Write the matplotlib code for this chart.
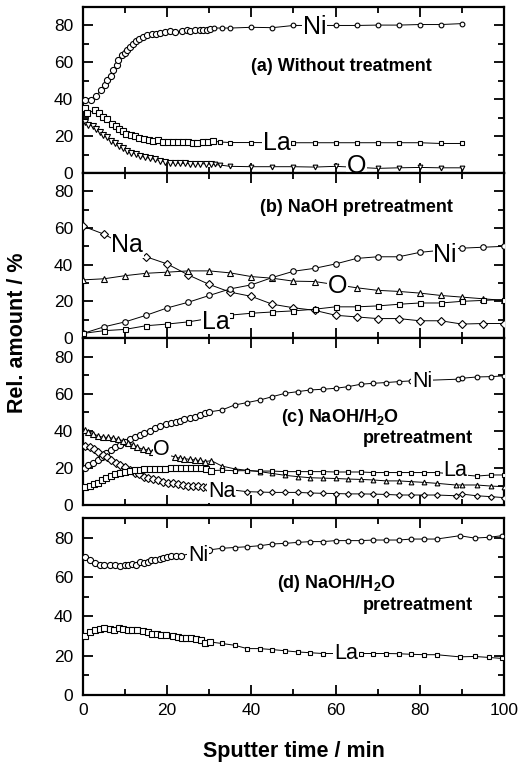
import matplotlib
matplotlib.use("Agg")
import matplotlib.pyplot as plt
from matplotlib.ticker import MultipleLocator

plt.rcParams['font.family'] = ['Liberation Sans', 'DejaVu Sans']
plt.rcParams['mathtext.fontset'] = 'custom'
plt.rcParams['mathtext.rm'] = 'Liberation Sans'
plt.rcParams['mathtext.bf'] = 'Liberation Sans:bold'

# ---------------- data (sputter time / min, relative amount / %) ----------------
# (a) Without treatment
NI_A_T = [0.5, 2.0, 3.1, 4.2, 5.2, 5.8, 6.6, 7.2, 8.0, 8.4, 9.2, 10.0, 10.5, 11.2, 11.8,
          12.6, 13.4, 14.3, 15.3, 16.3, 17.4, 18.2, 19.5, 20.7, 21.9, 23.4, 24.6, 25.4,
          26.6, 27.8, 28.6, 29.4, 30.2, 31.2, 33.0, 35, 40, 45, 50, 60, 65, 70, 75, 80, 85, 90]
NI_A_V = [39.8, 39.8, 41.6, 44.9, 47.6, 50.3, 52.4, 56.0, 58.4, 61.0, 63.8, 65.0, 66.5, 68.3,
          70.0, 71.4, 72.8, 73.7, 75.0, 75.5, 75.1, 76.0, 76.4, 76.8, 76.4, 76.8, 77.3, 77.0,
          77.3, 77.7, 77.7, 77.3, 78.2, 78.6, 78.6, 78.6, 79.0, 78.8, 80.0, 80.0, 80.0, 80.2,
          80.2, 80.5, 80.5, 81.0]
LA_A_T = [0.5, 0.9, 2.8, 3.9, 4.8, 5.7, 6.8, 7.8, 8.6, 9.5, 10.3, 11.3, 12.3, 13.3, 14.4,
          15.6, 16.6, 17.8, 19.0, 20.2, 21.4, 22.6, 23.8, 25.0, 26.2, 27.0, 28.4, 29.8, 30.8,
          32.6, 35, 40, 50, 55, 60, 65, 70, 75, 80, 85, 90]
LA_A_V = [35.0, 32.3, 34.0, 32.3, 30.4, 29.0, 26.8, 25.4, 24.1, 22.7, 21.4, 20.5, 20.0, 19.1,
          18.2, 17.8, 17.3, 17.8, 16.8, 16.8, 16.8, 16.8, 16.8, 16.8, 16.5, 16.5, 16.8, 16.8,
          17.3, 16.8, 16.5, 16.5, 16.4, 16.4, 16.4, 16.4, 16.4, 16.4, 16.4, 16.0, 16.0]
O_A_T = [0.5, 1.3, 2.3, 3.1, 4.0, 4.8, 5.7, 6.7, 7.5, 8.6, 9.5, 10.5, 11.5, 12.6, 13.5, 14.7,
         15.9, 17.1, 18.3, 19.5, 20.7, 21.9, 23.1, 24.3, 25.5, 26.7, 27.9, 29.1, 30.3, 31.3,
         32.5, 35, 40, 45, 50, 55, 60, 70, 75, 80, 85, 90]
O_A_V = [27.7, 26.0, 25.4, 23.6, 22.3, 20.5, 19.3, 17.5, 16.0, 14.8, 13.7, 11.9, 11.0, 10.3,
         9.2, 8.5, 8.0, 7.4, 6.7, 6.1, 5.6, 5.4, 5.2, 5.2, 5.0, 5.0, 5.0, 5.0, 4.8, 4.6, 4.3,
         3.6, 3.4, 3.4, 3.4, 3.2, 3.6, 2.5, 2.8, 3.0, 2.8, 2.8]

# (b) NaOH pretreatment
NA_B_T = [0, 5, 15, 20, 25, 30, 35, 40, 45, 50, 55, 60, 65, 70, 75, 80, 85, 90, 95, 100]
NA_B_V = [61.0, 56.6, 44.3, 40.4, 34.4, 29.2, 25.0, 22.7, 18.4, 16.5, 15.1, 12.4, 11.5, 10.6,
          10.6, 9.4, 9.4, 7.6, 7.9, 7.9]
O_B_T = [0, 5, 10, 15, 20, 25, 30, 35, 40, 45, 50, 55, 65, 70, 75, 80, 85, 90, 95, 100]
O_B_V = [31.7, 32.3, 34.0, 35.3, 35.9, 36.6, 36.6, 35.5, 33.5, 32.6, 31.0, 30.8, 27.4, 26.0,
         25.4, 24.5, 23.2, 22.3, 21.4, 20.5]
NI_B_T = [0, 5, 10, 15, 20, 25, 30, 35, 40, 45, 50, 55, 60, 65, 70, 75, 80, 90, 95, 100]
NI_B_V = [2.5, 6.1, 8.8, 12.4, 16.4, 19.5, 23.2, 26.8, 29.0, 33.0, 36.4, 38.0, 40.4, 43.4,
          44.3, 44.3, 46.7, 49.0, 49.5, 50.0]
LA_B_T = [0, 5, 10, 15, 20, 25, 35, 40, 45, 50, 55, 60, 65, 70, 75, 80, 85, 90, 95, 100]
LA_B_V = [2.5, 4.0, 4.7, 6.7, 7.6, 8.8, 12.5, 13.5, 14.2, 14.8, 15.7, 17.0, 17.0, 17.5, 18.4,
          19.1, 19.1, 20.0, 20.5, 21.0]

# (c) NaOH/H2O pretreatment
NI_C_T = [0.4, 1.2, 2.4, 3.6, 4.5, 5.5, 6.6, 7.7, 8.7, 9.9, 11.1, 12.3, 13.5, 14.6, 15.8, 17.0,
          18.2, 19.6, 20.8, 22.0, 23.0, 24.1, 25.3, 26.5, 27.7, 28.9, 30.0, 33, 36, 39, 42, 45,
          48, 51, 54, 57, 60, 63, 66, 69, 72, 75, 78, 89, 90, 93.5, 97, 100]
NI_C_V = [19.8, 21.6, 22.8, 24.3, 26.0, 27.9, 29.7, 31.1, 32.4, 33.8, 35.4, 36.5, 37.8, 39.0,
          40.1, 41.4, 42.6, 43.7, 44.4, 44.9, 45.5, 46.2, 46.7, 47.6, 48.5, 49.4, 50.2, 51.2,
          53.9, 55.2, 56.6, 58.4, 60.2, 61.1, 62.0, 62.4, 62.9, 63.8, 65.1, 65.6, 66.0, 66.5,
          66.9, 67.8, 68.3, 69.0, 69.2, 69.6]
O_C_T = [0.4, 1.2, 2.4, 3.6, 4.8, 5.9, 7.1, 8.3, 9.5, 10.7, 11.9, 12.9, 14.3, 15.4, 16.4, 21.8,
         23.0, 24.1, 25.3, 26.5, 27.7, 28.9, 30.5, 33, 36, 39, 42, 45, 48, 51, 54, 57, 60, 63,
         66, 69, 72, 75, 78, 81, 84, 88.5, 90, 93.5, 97, 100]
O_C_V = [40.3, 39.5, 38.5, 37.2, 36.5, 36.5, 36.0, 35.4, 34.7, 33.6, 32.4, 31.1, 30.0, 29.7,
         28.8, 26.0, 25.2, 25.0, 24.6, 24.3, 24.0, 23.4, 23.9, 21.0, 19.5, 18.7, 18.0, 17.0,
         16.0, 15.3, 14.7, 14.5, 14.3, 14.0, 13.8, 13.5, 13.0, 13.0, 12.6, 12.2, 11.7, 10.8,
         10.8, 10.8, 10.2, 9.9]
NA_C_T = [0.4, 1.6, 2.6, 3.6, 4.8, 5.8, 6.7, 7.9, 8.9, 9.9, 11.1, 12.3, 13.3, 14.5, 15.4, 16.6,
          17.8, 19.0, 20.2, 21.4, 22.6, 23.8, 25.0, 26.1, 27.3, 28.5, 29.5, 39, 42, 45, 48, 51,
          54, 57, 60, 63, 66, 69, 72, 75, 78, 81, 84, 88.5, 90, 93.5, 97, 100]
NA_C_V = [31.8, 31.1, 30.0, 28.8, 27.0, 25.7, 24.3, 22.8, 21.6, 20.3, 18.9, 17.4, 16.7, 15.3,
          14.4, 13.9, 13.5, 12.6, 12.0, 11.7, 11.3, 10.8, 10.5, 10.2, 10.0, 9.9, 9.7, 7.2, 7.0,
          6.8, 6.8, 6.8, 6.5, 6.3, 6.2, 6.0, 6.0, 5.9, 5.7, 5.4, 5.4, 5.4, 5.4, 5.0, 5.9, 5.0,
          4.5, 4.0]
LA_C_T = [0.4, 1.6, 2.6, 3.6, 4.5, 5.5, 6.6, 7.7, 8.7, 9.9, 11.1, 12.3, 13.5, 14.6, 15.8, 17.0,
          18.2, 19.5, 20.8, 22.0, 23.2, 24.4, 25.6, 26.8, 28.0, 29.2, 30.3, 33, 36, 39, 42, 45,
          48, 51, 54, 57, 60, 63, 66, 69, 72, 75, 78, 81, 84, 93.5, 97, 100]
LA_C_V = [9.5, 10.2, 11.3, 12.0, 13.5, 14.4, 15.6, 16.7, 17.4, 18.0, 18.5, 19.0, 19.0, 19.2,
          19.2, 19.2, 19.2, 19.2, 19.8, 19.8, 19.8, 19.8, 19.8, 19.8, 19.8, 19.5, 18.5, 18.8,
          18.5, 18.5, 18.3, 18.3, 18.0, 18.0, 18.0, 18.0, 17.8, 17.8, 17.8, 17.5, 17.5, 17.5,
          17.5, 17.5, 17.5, 15.6, 16.2, 16.2]

# (d) NaOH/H2O pretreatment
NI_D_T = [0.4, 1.6, 2.8, 4.0, 5.1, 6.3, 7.5, 8.7, 9.9, 10.7, 11.6, 12.5, 13.5, 14.5, 15.4, 16.2,
          17.2, 18.2, 19.1, 20.0, 21.0, 22.2, 23.3, 30, 33, 36, 39, 42, 45, 48, 51, 54, 57, 60,
          63, 66, 69, 72, 75, 78, 81, 84, 89.5, 93, 96.5, 99.5]
NI_D_V = [70.0, 68.4, 67.2, 66.2, 65.9, 65.9, 66.2, 65.5, 66.0, 66.2, 66.7, 66.2, 67.5, 67.2,
          67.5, 68.4, 68.4, 69.2, 69.5, 70.0, 70.5, 70.5, 70.9, 73.8, 74.6, 75.0, 75.4, 75.9,
          76.8, 77.1, 77.6, 78.0, 78.0, 78.5, 78.5, 78.5, 78.8, 78.8, 78.8, 79.3, 79.3, 79.3,
          81.0, 79.8, 80.2, 81.0]
LA_D_T = [0.4, 1.6, 2.8, 4.0, 5.1, 6.3, 7.4, 8.6, 9.6, 10.6, 11.6, 12.8, 14.3, 15.4, 16.4, 17.5,
          18.6, 19.8, 21.4, 22.6, 23.6, 24.5, 25.7, 26.9, 28.0, 28.9, 30.1, 33, 36, 39, 42, 45,
          48, 51, 54, 57, 66, 69, 72, 75, 78, 81, 84, 89.5, 93, 96.5, 99.5]
LA_D_V = [30.0, 32.0, 32.9, 33.7, 34.1, 33.7, 32.9, 34.1, 33.7, 32.9, 33.2, 33.2, 32.4, 32.0,
          31.2, 31.2, 30.7, 30.7, 30.0, 29.6, 29.2, 29.0, 29.0, 28.4, 27.8, 26.7, 27.0, 26.2,
          25.3, 23.6, 23.6, 23.1, 22.5, 21.9, 21.5, 21.1, 21.1, 21.1, 21.1, 21.0, 20.7, 20.5,
          20.5, 19.4, 19.6, 19.1, 18.6]

X_TICKS = [0, 20, 40, 60, 80, 100]
Y_TICKS = [0, 20, 40, 60, 80]

# ---------------- figure ----------------
fig = plt.figure(figsize=(5.29, 7.63), dpi=100)
L, W = 0.1569, 0.7958
ax_a = fig.add_axes([L, 0.7733, W, 0.2175])
ax_b = fig.add_axes([L, 0.5570, W, 0.2163])
ax_c = fig.add_axes([L, 0.3381, W, 0.2189])
ax_d = fig.add_axes([L, 0.0891, W, 0.2320])


def style(ax, show_x):
    ax.set_xlim(0, 100)
    ax.set_ylim(0, 90)
    ax.set_xticks(X_TICKS)
    ax.set_yticks(Y_TICKS)
    ax.xaxis.set_minor_locator(MultipleLocator(10))
    ax.yaxis.set_minor_locator(MultipleLocator(10))
    ax.tick_params(which='both', direction='in', top=True, right=True, width=1.3,
                   labelsize=12.5)
    ax.tick_params(which='major', length=7)
    ax.tick_params(which='minor', length=4.5)
    ax.tick_params(axis='y', pad=7)
    ax.tick_params(axis='x', pad=6)
    if not show_x:
        ax.tick_params(axis='x', labelbottom=False)
    for s in ax.spines.values():
        s.set_linewidth(1.6)


def series(ax, t, v, marker, ms_dense=4.4, ms_sparse=3.4):
    ax.plot(t, v, '-', color='black', lw=0.7, zorder=2)
    td = [x for x in t if x <= 31]
    vd = [y for x, y in zip(t, v) if x <= 31]
    ts = [x for x in t if x > 31]
    vs = [y for x, y in zip(t, v) if x > 31]
    for tt, vv, ms in ((td, vd, ms_dense), (ts, vs, ms_sparse)):
        ax.plot(tt, vv, linestyle='none', marker=marker, ms=ms, mfc='white',
                mec='black', mew=0.8, zorder=3)


def label(ax, t, v, s, size):
    ax.text(t, v, s, ha='center', va='center', fontsize=size, zorder=6,
            bbox=dict(fc='white', ec='none', pad=0.6))


for ax in (ax_a, ax_b, ax_c):
    style(ax, False)
style(ax_d, True)

# (a)
series(ax_a, NI_A_T, NI_A_V, 'o')
series(ax_a, LA_A_T, LA_A_V, 's', 4.2, 3.2)
series(ax_a, O_A_T, O_A_V, 'v')
label(ax_a, 55, 79.3, 'Ni', 18)
label(ax_a, 46, 16.0, 'La', 18)
label(ax_a, 65, 3.8, 'O', 18)
ax_a.text(40, 58, '(a) Without treatment', fontsize=13, fontweight='bold',
          ha='left', va='center')

# (b)
series(ax_b, NA_B_T, NA_B_V, 'D', 3.6, 3.6)
series(ax_b, O_B_T, O_B_V, '^', 4.2, 4.2)
series(ax_b, NI_B_T, NI_B_V, 'o', 4.0, 4.0)
series(ax_b, LA_B_T, LA_B_V, 's', 3.6, 3.6)
label(ax_b, 10.5, 50.5, 'Na', 18)
label(ax_b, 60.5, 28.5, 'O', 18)
label(ax_b, 86, 45.5, 'Ni', 18)
label(ax_b, 31.5, 9.0, 'La', 18)
ax_b.text(42, 71, '(b) NaOH pretreatment', fontsize=13, fontweight='bold',
          ha='left', va='center')

# (c)
series(ax_c, NI_C_T, NI_C_V, 'o', 4.4, 3.4)
series(ax_c, O_C_T, O_C_V, '^', 4.4, 3.4)
series(ax_c, NA_C_T, NA_C_V, 'D', 3.8, 3.0)
series(ax_c, LA_C_T, LA_C_V, 's', 4.2, 3.2)
label(ax_c, 18.7, 30.0, 'O', 15.5)
label(ax_c, 80.5, 66.5, 'Ni', 15.5)
label(ax_c, 33.0, 7.3, 'Na', 15.5)
label(ax_c, 88.5, 18.8, 'La', 15.5)
ax_c.text(47, 47, r'(c) NaOH/H$_\mathbf{2}$O', fontsize=13, fontweight='bold',
          ha='left', va='center')
ax_c.text(66.5, 36, 'pretreatment', fontsize=13, fontweight='bold',
          ha='left', va='center')

# (d)
series(ax_d, NI_D_T, NI_D_V, 'o', 4.4, 3.4)
series(ax_d, LA_D_T, LA_D_V, 's', 4.2, 3.2)
label(ax_d, 27.3, 70.9, 'Ni', 15.5)
label(ax_d, 62.5, 21.0, 'La', 15.5)
ax_d.text(46, 56.7, r'(d) NaOH/H$_\mathbf{2}$O', fontsize=13, fontweight='bold',
          ha='left', va='center')
ax_d.text(66.5, 45.6, 'pretreatment', fontsize=13, fontweight='bold',
          ha='left', va='center')

fig.text(0.034, 0.5636, 'Rel. amount / %', rotation=90, fontsize=15.5,
         fontweight='bold', ha='center', va='center')
fig.text(0.555, 0.0157, 'Sputter time / min', fontsize=15.5, fontweight='bold',
         ha='center', va='center')

fig.savefig('out.png', dpi=100)
